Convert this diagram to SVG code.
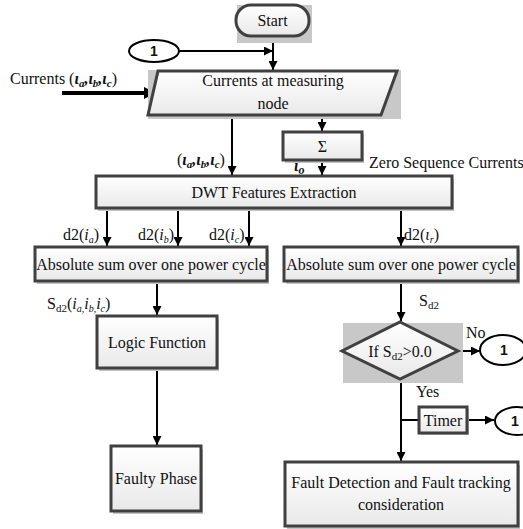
<svg xmlns="http://www.w3.org/2000/svg" width="523" height="529" viewBox="0 0 523 529" font-family="'Liberation Serif', 'DejaVu Serif', serif">
  <defs>
    <linearGradient id="boxFill" x1="0" y1="0" x2="0" y2="1">
      <stop offset="0" stop-color="#ffffff"/>
      <stop offset="1" stop-color="#e9e9e9"/>
    </linearGradient>
    <marker id="arrow" viewBox="0 0 10 10" refX="10" refY="5" markerWidth="4.5" markerHeight="4.5" orient="auto" markerUnits="strokeWidth">
      <path d="M0,0 L10,5 L0,10 z" fill="#000"/>
    </marker>
    <marker id="arrowThick" viewBox="0 0 10 10" refX="10" refY="5" markerWidth="3" markerHeight="3" orient="auto" markerUnits="strokeWidth">
      <path d="M0,0 L10,5 L0,10 z" fill="#000"/>
    </marker>
  </defs>
  <style>
    .box { fill: url(#boxFill); stroke: #404040; stroke-width: 3; }
    .shadow { fill: #c4c4c4; }
    .backdrop { fill: #c8c8c8; }
    .conn { fill: #fff; stroke: #000; stroke-width: 2; }
    .line { fill: none; stroke: #000; stroke-width: 2; }
    .arr { fill: none; stroke: #000; stroke-width: 2; marker-end: url(#arrow); }
    text { font-family: 'Liberation Serif', 'DejaVu Serif', serif; font-size: 16px; fill: #111; }
    .c { text-anchor: middle; }
    .num { font-family: 'Liberation Sans', 'DejaVu Sans', sans-serif; font-weight: bold; font-size: 14px; text-anchor: middle; }
    .bi { font-weight: bold; font-style: italic; }
    .it { font-style: italic; }
  </style>

  <!-- connectors -->
  <g id="connectors">
    <line class="arr" x1="179" y1="51" x2="273" y2="51"/>
    <line class="arr" x1="273" y1="36" x2="273" y2="70"/>
    <line x1="62" y1="93" x2="156" y2="93" stroke="#000" stroke-width="4" marker-end="url(#arrowThick)"/>
    <line class="arr" x1="232" y1="116" x2="232" y2="175"/>
    <line class="arr" x1="322" y1="116" x2="322" y2="131"/>
    <line class="arr" x1="322" y1="161" x2="322" y2="175"/>
    <line class="arr" x1="107" y1="209" x2="107" y2="246"/>
    <line class="arr" x1="178" y1="209" x2="178" y2="246"/>
    <line class="arr" x1="249" y1="209" x2="249" y2="246"/>
    <line class="arr" x1="401" y1="209" x2="401" y2="246"/>
    <line class="arr" x1="157" y1="282" x2="157" y2="315"/>
    <line class="arr" x1="157" y1="369" x2="157" y2="445"/>
    <line class="arr" x1="401" y1="282" x2="401" y2="321"/>
    <line class="arr" x1="458" y1="351" x2="480" y2="351"/>
    <line class="arr" x1="401" y1="379" x2="401" y2="461"/>
    <line class="line" x1="401" y1="420" x2="419" y2="420"/>
    <line class="arr" x1="468" y1="420" x2="494" y2="420"/>
  </g>

  <!-- edge labels -->
  <g id="labels">
    <text x="10" y="84">Currents (<tspan class="bi">ɩ<tspan font-size="11" dy="3">a</tspan><tspan dy="-3">,</tspan>ɩ<tspan font-size="11" dy="3">b</tspan><tspan dy="-3">,</tspan>ɩ<tspan font-size="11" dy="3">c</tspan></tspan><tspan dy="-3">)</tspan></text>
    <text x="177" y="165">(<tspan class="bi">ɩ<tspan font-size="11" dy="3">a</tspan><tspan dy="-3">,</tspan>ɩ<tspan font-size="11" dy="3">b</tspan><tspan dy="-3">,</tspan>ɩ<tspan font-size="11" dy="3">c</tspan></tspan><tspan dy="-3">)</tspan></text>
    <text x="294" y="171" class="bi">ɩ<tspan font-size="12" dy="3">o</tspan></text>
    <text x="369" y="168" font-size="15.5">Zero Sequence Currents</text>
    <text x="63" y="240">d2(<tspan class="it">i<tspan font-size="10" dy="3">a</tspan></tspan><tspan dy="-3">)</tspan></text>
    <text x="138" y="240">d2(<tspan class="it">i<tspan font-size="10" dy="3">b</tspan></tspan><tspan dy="-3">)</tspan></text>
    <text x="209" y="240">d2(<tspan class="it">i<tspan font-size="10" dy="3">c</tspan></tspan><tspan dy="-3">)</tspan></text>
    <text x="404" y="240">d2(<tspan class="it">ɩ<tspan font-size="10" dy="3">r</tspan></tspan><tspan dy="-3">)</tspan></text>
    <text x="47" y="309">S<tspan font-size="11" dy="3">d2</tspan><tspan dy="-3">(</tspan><tspan class="it">i<tspan font-size="10" dy="3">a,</tspan><tspan dy="-3">i</tspan><tspan font-size="10" dy="3">b,</tspan><tspan dy="-3">i</tspan><tspan font-size="10" dy="3">c</tspan></tspan><tspan dy="-3">)</tspan></text>
    <text x="419" y="306">S<tspan font-size="11" dy="3">d2</tspan></text>
    <text x="466" y="338">No</text>
    <text x="416" y="397">Yes</text>
  </g>

  <g id="start">
    <rect class="backdrop" x="237" y="5" width="75" height="38"/>
    <rect class="box" x="236" y="5" width="73" height="31" rx="15"/>
    <text class="c" x="272.5" y="26">Start</text>
  </g>

  <g id="connector-top">
    <ellipse class="conn" cx="154" cy="51" rx="25" ry="11"/>
    <text class="num" x="154" y="56">1</text>
  </g>

  <g id="input">
    <rect class="backdrop" x="148" y="70" width="253" height="49"/>
    <polygon class="box" points="158,71 397,71 381,115 148,115"/>
    <text class="c" x="273" y="86">Currents at measuring</text>
    <text class="c" x="273" y="109">node</text>
  </g>

  <g id="sum">
    <rect class="shadow" x="285" y="135" width="79" height="28"/>
    <rect class="box" x="283" y="132" width="79" height="28"/>
    <text class="c" x="322.5" y="152">Σ</text>
  </g>

  <g id="dwt">
    <rect class="shadow" x="98" y="179" width="356" height="32"/>
    <rect class="box" x="96" y="176" width="356" height="32"/>
    <text class="c" x="274" y="198">DWT Features Extraction</text>
  </g>

  <g id="abs-left">
    <rect class="shadow" x="37" y="250" width="232" height="34"/>
    <rect class="box" x="35" y="247" width="232" height="34"/>
    <text class="c" x="151" y="270">Absolute sum over one power cycle</text>
  </g>

  <g id="abs-right">
    <rect class="shadow" x="286" y="250" width="234" height="34"/>
    <rect class="box" x="284" y="247" width="234" height="34"/>
    <text class="c" x="401" y="270">Absolute sum over one power cycle</text>
  </g>

  <g id="logic">
    <rect class="shadow" x="99" y="319" width="120" height="52"/>
    <rect class="box" x="97" y="316" width="120" height="52"/>
    <text class="c" x="157" y="348">Logic Function</text>
  </g>

  <g id="faulty">
    <rect class="shadow" x="113" y="449" width="90" height="65"/>
    <rect class="box" x="111" y="446" width="90" height="65"/>
    <text class="c" x="156" y="484">Faulty Phase</text>
  </g>

  <g id="decision">
    <rect class="backdrop" x="343" y="323" width="120" height="60"/>
    <polygon class="box" points="400,322 458,351 400,379 342,351"/>
    <text class="c" x="400" y="357">If S<tspan font-size="11" dy="3">d2</tspan><tspan dy="-3">&gt;0.0</tspan></text>
  </g>

  <g id="connector-no">
    <ellipse class="conn" cx="503" cy="350" rx="23" ry="15"/>
    <text class="num" x="504" y="355">1</text>
  </g>

  <g id="timer">
    <rect class="shadow" x="421" y="409" width="48" height="26"/>
    <rect class="box" x="419" y="407" width="48" height="26"/>
    <text class="c" x="443" y="426">Timer</text>
  </g>

  <g id="connector-timer">
    <ellipse class="conn" cx="517" cy="421" rx="22" ry="14"/>
    <text class="num" x="515" y="426">1</text>
  </g>

  <g id="fault-detection">
    <rect class="shadow" x="287" y="465" width="233" height="64"/>
    <rect class="box" x="285" y="462" width="233" height="64"/>
    <text class="c" x="401" y="488">Fault Detection and Fault tracking</text>
    <text class="c" x="401" y="510">consideration</text>
  </g>
</svg>
